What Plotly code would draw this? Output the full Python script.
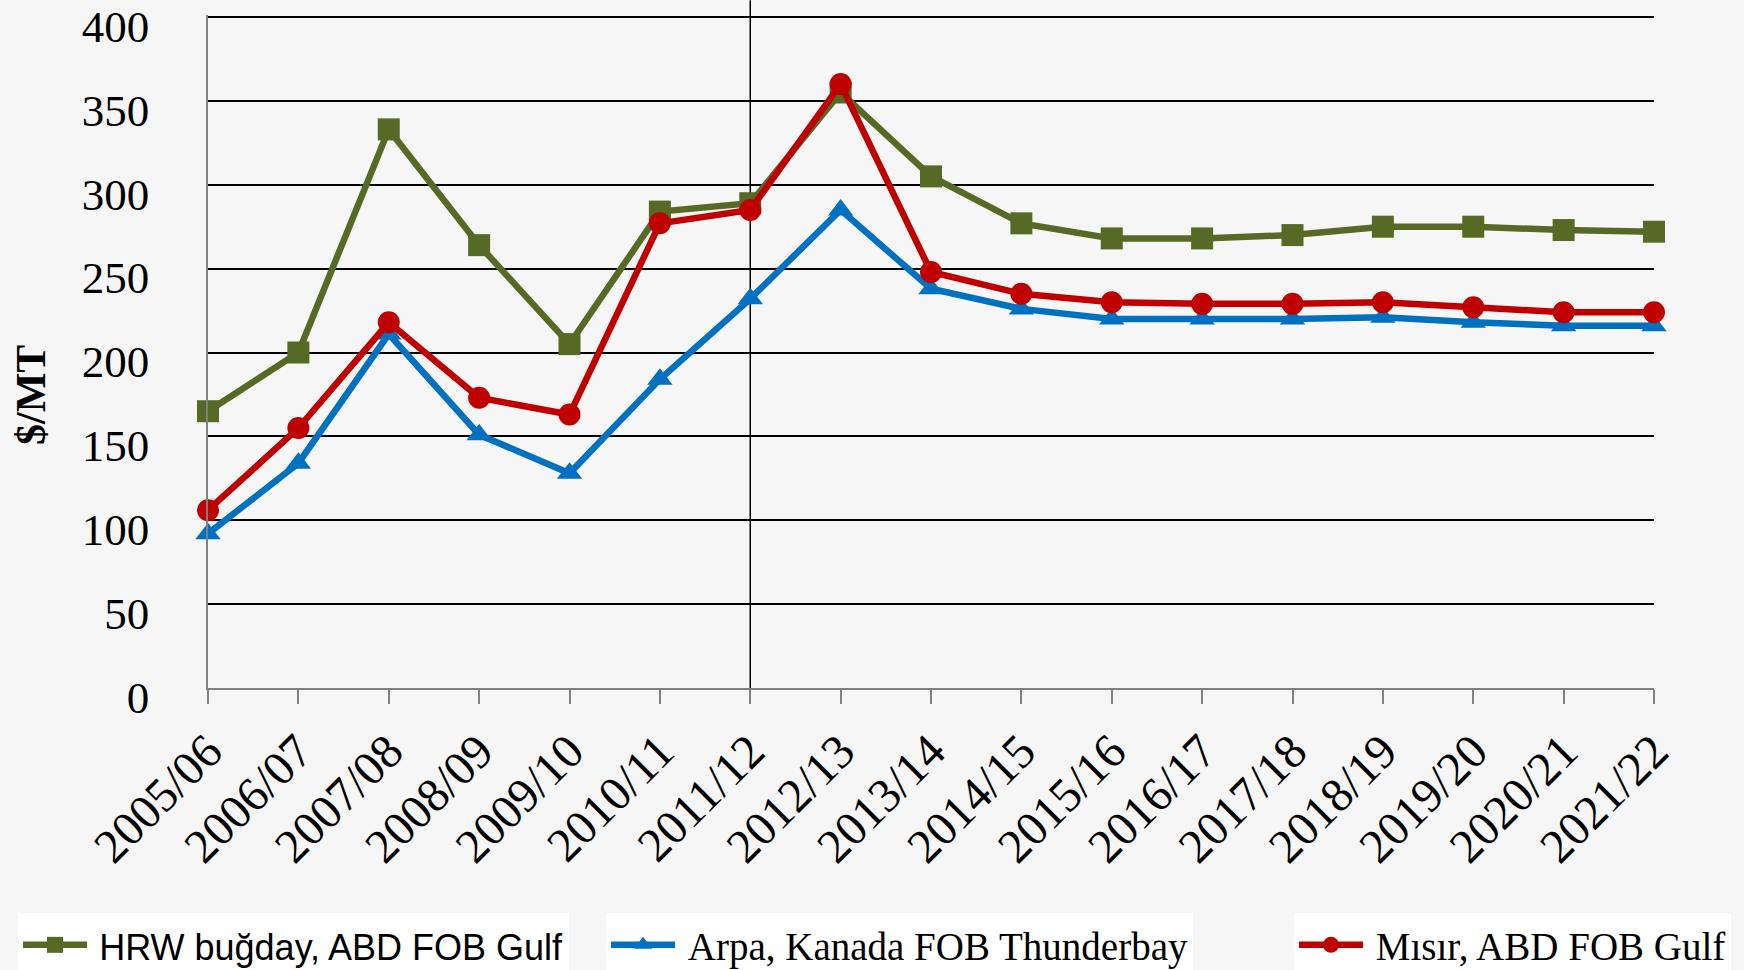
import plotly.graph_objects as go

categories = ["2005/06", "2006/07", "2007/08", "2008/09", "2009/10", "2010/11", "2011/12",
              "2012/13", "2013/14", "2014/15", "2015/16", "2016/17", "2017/18", "2018/19",
              "2019/20", "2020/21", "2021/22"]
hrw = [165, 200, 333, 264, 205, 284, 289, 355, 305, 277, 268, 268, 270, 275, 275, 273, 272]
arpa = [92, 134, 211, 151, 128, 184, 232, 285, 238, 226, 220, 220, 220, 221, 218, 216, 216]
misir = [106, 155, 218, 173, 163, 277, 285, 360, 248, 235, 230, 229, 229, 230, 227, 224, 224]
y_ticks = [0, 50, 100, 150, 200, 250, 300, 350, 400]
marker_year = "2011/12"

names = ["HRW buğday, ABD FOB Gulf", "Arpa, Kanada FOB Thunderbay", "Mısır, ABD FOB Gulf"]
colors = ["#566A25", "#0070C0", "#C00000"]
symbols = ["square", "triangle-up", "circle"]
fonts = ["Liberation Sans", "Liberation Serif", "Liberation Serif"]
fsizes = [36, 39, 39]
legends = ["legend", "legend2", "legend3"]

SERIF = "Liberation Serif"
x_idx = list(range(len(categories)))

fig = go.Figure()
for vals, name, col, sym, fnt, fs, lg in zip([hrw, arpa, misir], names, colors, symbols, fonts, fsizes, legends):
    fig.add_trace(go.Scatter(
        x=x_idx, y=vals, mode="lines+markers",
        name=f"<span style='font-family:{fnt};font-size:{fs}px'>&#8201;{name}</span>",
        line=dict(color=col, width=6.5),
        marker=dict(symbol=sym, size=22, color=col),
        legend=lg, cliponaxis=False,
    ))

mi = categories.index(marker_year)
fig.add_shape(type="line", xref="x", yref="paper", x0=mi, x1=mi, y0=0, y1=1.022,
              line=dict(color="black", width=1.5), layer="below")

# plot area geometry (px): left 208, right 1654, zero at 688, 400 at 17
fig.add_annotation(text="<b>$/MT</b>", xref="paper", yref="paper",
                   x=(31 - 208) / 1446, y=(688 - 395) / 673, textangle=-90,
                   xanchor="center", yanchor="middle",
                   showarrow=False, font=dict(family=SERIF, size=42, color="black"))

leg_common = dict(orientation="h", yanchor="middle", xanchor="left",
                  bgcolor="white", font=dict(family=SERIF, size=39, color="black"),
                  itemwidth=64, borderwidth=0)
ly = (688 - 945) / 673
fig.update_layout(
    width=1744, height=970,
    margin=dict(l=208, r=90, t=15, b=282, autoexpand=False),
    paper_bgcolor="#f6f6f6", plot_bgcolor="#f6f6f6",
    showlegend=True,
    legend=dict(x=(18 - 208) / 1446, y=ly, **leg_common),
    legend2=dict(x=(606 - 208) / 1446, y=ly, **leg_common),
    legend3=dict(x=(1294 - 208) / 1446, y=ly, **leg_common),
    xaxis=dict(
        range=[0, len(categories) - 1], tickmode="array", tickvals=x_idx, ticktext=categories,
        tickangle=-45, ticks="outside", ticklen=14, tickwidth=1.5, tickcolor="#808080",
        showline=True, linecolor="#808080", linewidth=1.5, showgrid=False, zeroline=False,
        tickfont=dict(family=SERIF, size=48, color="black"), automargin=False,
    ),
    yaxis=dict(
        range=[0, 401.2], tickmode="array", tickvals=y_ticks,
        showline=True, linecolor="#808080", linewidth=1.5,
        showgrid=True, gridcolor="black", gridwidth=1.5, zeroline=False,
        ticks="", ticklabelstandoff=48, ticklabelshift=9, automargin=False,
        ticklabeloverflow="allow",
        tickfont=dict(family=SERIF, size=45, color="black"),
    ),
)
fig.write_html("out.html", config={"displayModeBar": False},
               post_script="document.body.style.margin='0';")
